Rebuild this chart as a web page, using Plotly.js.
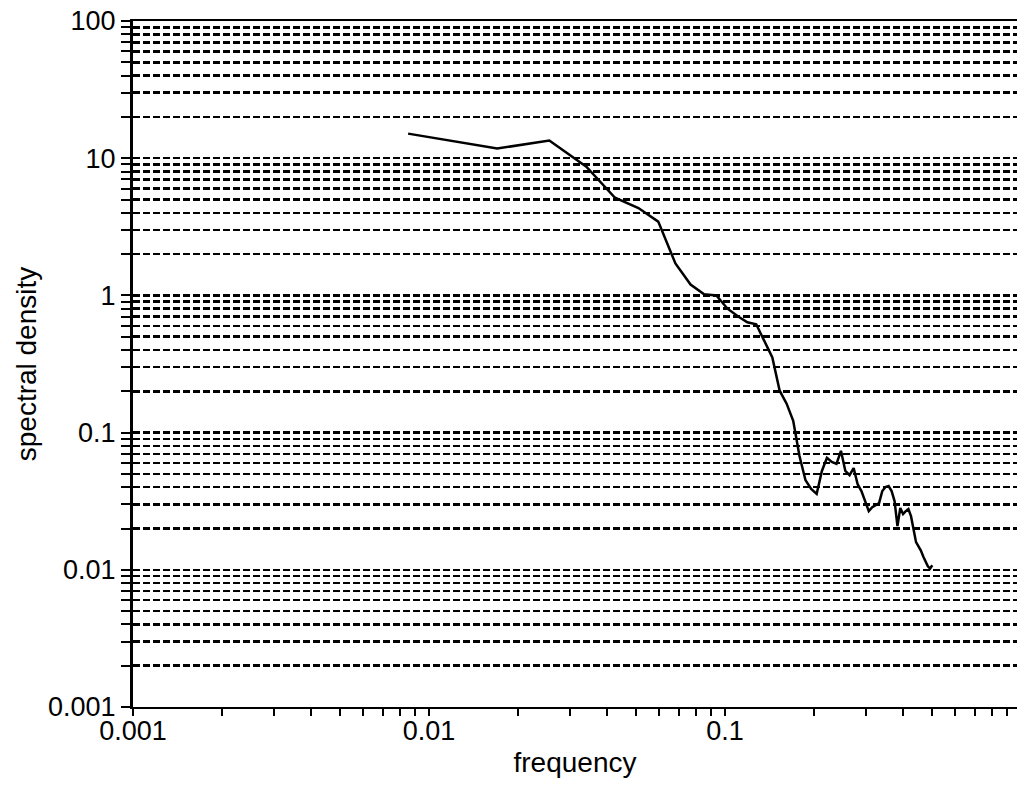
<!DOCTYPE html>
<html>
<head>
<meta charset="utf-8">
<script src="https://cdn.plot.ly/plotly-3.0.1.min.js"></script>
<style>html,body{margin:0;padding:0;background:#fff;}#chart{width:1017px;height:785px;}</style>
</head>
<body>
<div id="chart"></div>
<script>
// frequency values (cycles per unit)
const frequency = [
  0.0085, 0.0170, 0.0255, 0.0340, 0.0425, 0.0510, 0.0595, 0.0680, 0.0765, 0.0850,
  0.0935, 0.1020, 0.1105, 0.1190, 0.1275, 0.1360, 0.1445, 0.1530, 0.1615, 0.1700,
  0.1785, 0.1870, 0.1955, 0.2040, 0.2125, 0.2210, 0.2295, 0.2380, 0.2465, 0.2550,
  0.2635, 0.2720, 0.2805, 0.2890, 0.2975, 0.3060, 0.3145, 0.3230, 0.3315, 0.3400,
  0.3485, 0.3570, 0.3655, 0.3740, 0.3825, 0.3910, 0.3995, 0.4080, 0.4165, 0.4250,
  0.4335, 0.4420, 0.4505, 0.4590, 0.4675, 0.4760, 0.4845, 0.4930, 0.5015
];
// spectral density estimates
const spectralDensity = [
  15.1, 11.76, 13.45, 8.68, 5.15, 4.33, 3.45, 1.71, 1.20, 1.02,
  1.0, 0.80, 0.705, 0.637, 0.616, 0.462, 0.353, 0.202, 0.1625, 0.122,
  0.0676, 0.0451, 0.0388, 0.0357, 0.0525, 0.0654, 0.0611, 0.0591, 0.0736, 0.0525,
  0.049, 0.0552, 0.0422, 0.0375, 0.0317, 0.0268, 0.0286, 0.0296, 0.0306, 0.0375,
  0.0401, 0.0408, 0.0375, 0.0317, 0.0208, 0.0282, 0.0255, 0.0268, 0.0277, 0.0246,
  0.0201, 0.0159, 0.0148, 0.0138, 0.0125, 0.0113, 0.0106, 0.0102, 0.0108
];
// tick positions and labels
const xTickVals = [0.001,0.002,0.003,0.004,0.005,0.006,0.007,0.008,0.009,
  0.01,0.02,0.03,0.04,0.05,0.06,0.07,0.08,0.09,
  0.1,0.2,0.3,0.4,0.5,0.6,0.7,0.8,0.9];
const xTickText = ['0.001','','','','','','','','',
  '0.01','','','','','','','','',
  '0.1','','','','','','','',''];
const yTickVals = [0.001,0.002,0.003,0.004,0.005,0.006,0.007,0.008,0.009,
  0.01,0.02,0.03,0.04,0.05,0.06,0.07,0.08,0.09,
  0.1,0.2,0.3,0.4,0.5,0.6,0.7,0.8,0.9,
  1,2,3,4,5,6,7,8,9,
  10,20,30,40,50,60,70,80,90,100];
const yTickText = ['0.001','','','','','','','','',
  '0.01','','','','','','','','',
  '0.1','','','','','','','','',
  '1','','','','','','','','',
  '10','','','','','','','','','100'];

const font = 'Liberation Sans, Arial, Helvetica, sans-serif';

const trace = {
  x: frequency,
  y: spectralDensity,
  type: 'scatter',
  mode: 'lines',
  line: {color: '#000', width: 2.5},
  hoverinfo: 'x+y'
};

const layout = {
  width: 1017,
  height: 785,
  paper_bgcolor: '#fff',
  plot_bgcolor: '#fff',
  showlegend: false,
  margin: {l: 133, r: 0, t: 21, b: 78, pad: 0},
  font: {family: font, color: '#000'},
  xaxis: {
    type: 'log',
    range: [-3, -0.0135],
    tickmode: 'array',
    tickvals: xTickVals,
    ticktext: xTickText,
    ticks: 'outside',
    ticklen: 7,
    tickwidth: 2,
    tickcolor: '#000',
    ticklabelstandoff: -8,
    tickfont: {family: font, size: 27, color: '#000'},
    showgrid: false,
    showline: true,
    linecolor: '#000',
    linewidth: 2,
    mirror: true,
    zeroline: false,
    automargin: false,
    title: {text: 'frequency', font: {family: font, size: 28, color: '#000'}, standoff: 7}
  },
  yaxis: {
    type: 'log',
    range: [-3, 2],
    tickmode: 'array',
    tickvals: yTickVals,
    ticktext: yTickText,
    ticks: 'outside',
    ticklen: 9,
    tickwidth: 2,
    tickcolor: '#000',
    tickfont: {family: font, size: 27, color: '#000'},
    showgrid: true,
    gridcolor: '#000',
    gridwidth: 2.5,
    griddash: '7px,3px',
    showline: true,
    linecolor: '#000',
    linewidth: 3,
    zeroline: false,
    automargin: false,
    title: {text: 'spectral density', font: {family: font, size: 28, color: '#000'}, standoff: 4}
  }
};

Plotly.newPlot('chart', [trace], layout, {displayModeBar: false, staticPlot: true});
</script>
</body>
</html>
